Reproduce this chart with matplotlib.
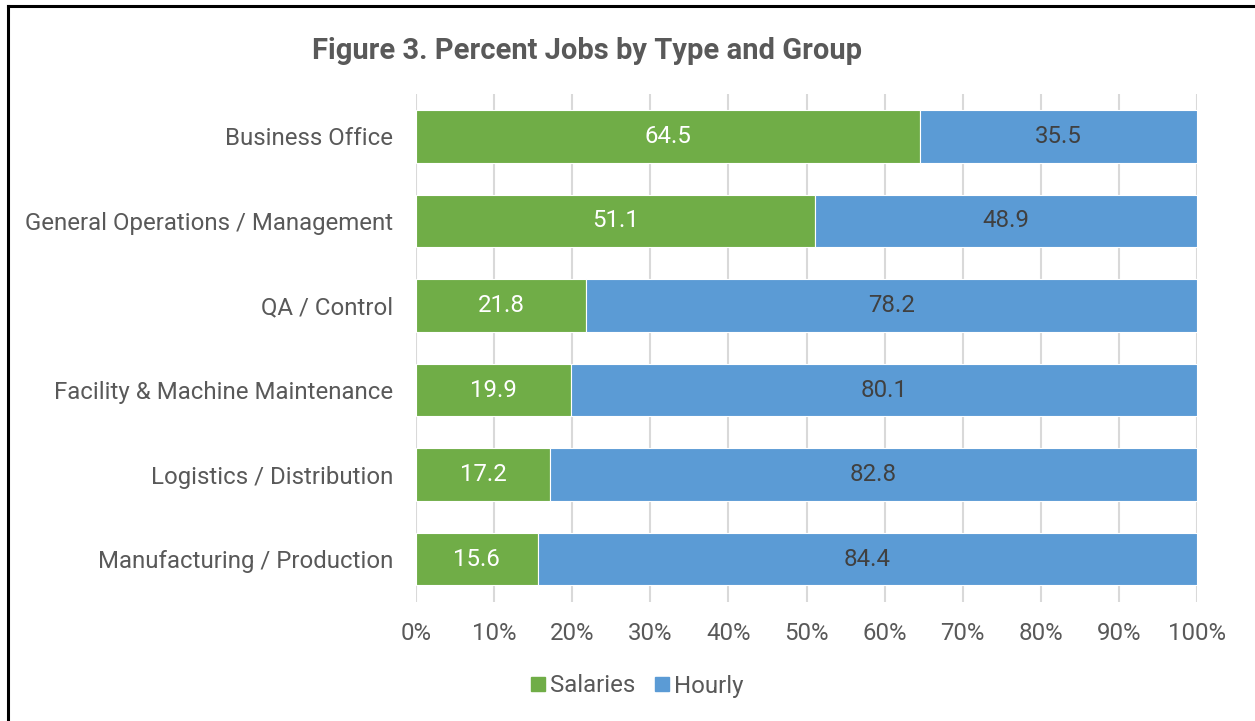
import matplotlib
matplotlib.use("Agg")
import matplotlib.pyplot as plt
from matplotlib.lines import Line2D
from matplotlib.ticker import FuncFormatter
import numpy as np

plt.rcParams['font.family'] = ['Roboto', 'DejaVu Sans']

categories = [
    "Business Office",
    "General Operations / Management",
    "QA / Control",
    "Facility & Machine Maintenance",
    "Logistics / Distribution",
    "Manufacturing / Production",
]
salaries = [64.5, 51.1, 21.8, 19.9, 17.2, 15.6]
hourly = [35.5, 48.9, 78.2, 80.1, 82.8, 84.4]
x_ticks = [0, 10, 20, 30, 40, 50, 60, 70, 80, 90, 100]

GREEN = "#70AD47"
BLUE = "#5B9BD5"
TEXT = "#595959"
FS = 17.3

fig = plt.figure(figsize=(12.55, 7.21), dpi=100)
ax = fig.add_axes([416 / 1255, 1 - 601.5 / 721, (1197 - 416) / 1255, (601.5 - 94) / 721])

y = np.arange(len(categories))
b1 = ax.barh(y, salaries, height=0.62, color=GREEN, edgecolor="white", linewidth=0.8, zorder=3)
b2 = ax.barh(y, hourly, left=salaries, height=0.62, color=BLUE, edgecolor="white", linewidth=0.8, zorder=3)

for rect, v in zip(b1, salaries):
    ax.text(rect.get_x() + rect.get_width() / 2, rect.get_y() + rect.get_height() / 2,
            f"{v:.1f}", ha="center", va="center", color="white", fontsize=FS, zorder=4)
for rect, v in zip(b2, hourly):
    ax.text(rect.get_x() + rect.get_width() / 2, rect.get_y() + rect.get_height() / 2,
            f"{v:.1f}", ha="center", va="center", color="#404040", fontsize=FS, zorder=4)

ax.set_xlim(0, 100)
ax.set_ylim(len(categories) - 0.5, -0.5)
ax.set_xticks(x_ticks)
ax.xaxis.set_major_formatter(FuncFormatter(lambda v, p: f"{v:.0f}%"))
ax.set_yticks(y)
ax.set_yticklabels(categories)
ax.tick_params(axis="both", length=0, colors=TEXT, labelsize=FS)
ax.tick_params(axis="x", pad=15)
ax.tick_params(axis="y", pad=16.5)
for s in ax.spines.values():
    s.set_visible(False)
ax.grid(axis="x", color="#D9D9D9", linewidth=1.5, zorder=0)
ax.set_axisbelow(True)

fig.text(312 / 1255, 1 - 51 / 721, "Figure 3. Percent Jobs by Type and Group",
         fontsize=21, fontweight="bold", color=TEXT, ha="left", va="center")

handles = [
    Line2D([], [], marker="s", linestyle="none", markersize=9.5, color=GREEN, label="Salaries"),
    Line2D([], [], marker="s", linestyle="none", markersize=9.5, color=BLUE, label="Hourly"),
]
fig.legend(handles=handles, loc="center", bbox_to_anchor=(635 / 1255, 1 - 686 / 721), ncol=2,
           frameon=False, fontsize=FS, labelcolor=TEXT, handletextpad=0.0,
           columnspacing=0.6, handlelength=1.0)

# frame lines along the top and left edges
fig.add_artist(Line2D([7.5 / 1255, 7.5 / 1255], [0, 1 - 5.5 / 721], color="black", linewidth=2.2,
                      transform=fig.transFigure))
fig.add_artist(Line2D([7.5 / 1255, 1], [1 - 5.5 / 721, 1 - 5.5 / 721], color="black", linewidth=2.2,
                      transform=fig.transFigure))

fig.savefig("out.png", dpi=100, facecolor="white")
